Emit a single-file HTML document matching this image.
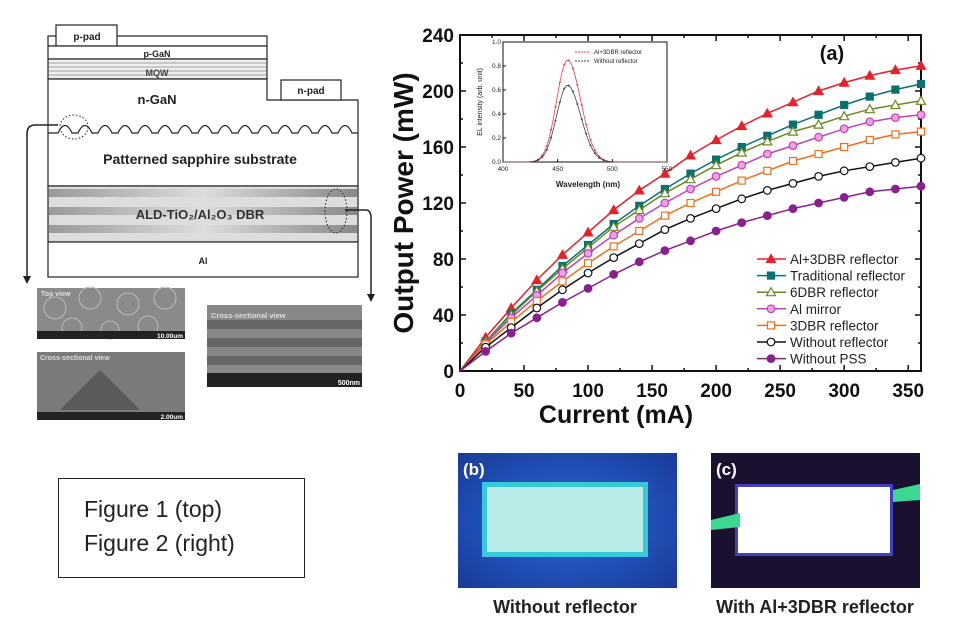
<!DOCTYPE html>
<html><head><meta charset="utf-8"><style>
body{margin:0;width:960px;height:640px;background:#fff;overflow:hidden;font-family:"Liberation Sans",sans-serif}
svg{position:absolute;left:0;top:0}
</style></head><body>
<svg id="s" width="960" height="640" viewBox="0 0 960 640" font-family="Liberation Sans, sans-serif">
<defs>
<linearGradient id="dbr" x1="0" y1="0" x2="1" y2="0">
<stop offset="0" stop-color="#999"/><stop offset="0.5" stop-color="#ddd"/><stop offset="1" stop-color="#888"/>
</linearGradient>
<radialGradient id="gb" cx="0.5" cy="0.5" r="0.7"><stop offset="0" stop-color="#2a6ad8"/><stop offset="1" stop-color="#1a3a9a"/></radialGradient>
</defs>
<g stroke="#222" stroke-width="1.2" fill="#fff">
<rect x="48" y="36" width="219" height="10"/>
<rect x="56" y="25" width="61" height="21"/>
<rect x="48" y="46" width="219" height="13"/>
<rect x="48" y="59" width="219" height="20" fill="#eee"/>
<path d="M48 79 H267 V100 H358 V186 H48 Z"/>
<rect x="281" y="80" width="60" height="20"/>
<rect x="48" y="186" width="310" height="56" fill="#ddd"/>
<rect x="48" y="242" width="310" height="35"/>
</g>
<g stroke="#555" stroke-width="0.6"><line x1="48" y1="63" x2="267" y2="63"/><line x1="48" y1="67" x2="267" y2="67"/><line x1="48" y1="71" x2="267" y2="71"/><line x1="48" y1="75" x2="267" y2="75"/></g>
<g fill="url(#dbr)"><rect x="49" y="189" width="308" height="8"/><rect x="49" y="207" width="308" height="8"/><rect x="49" y="225" width="308" height="8"/></g>
<path id="wave" fill="none" stroke="#222" stroke-width="1.2" d=""/>
<g font-weight="bold" fill="#222" text-anchor="middle">
<text x="87" y="40" font-size="10">p-pad</text>
<text x="157" y="57" font-size="9">p-GaN</text>
<text x="157" y="76" font-size="9" fill="#444">MQW</text>
<text x="157" y="104" font-size="13">n-GaN</text>
<text x="311" y="94" font-size="10">n-pad</text>
<text x="200" y="164" font-size="14">Patterned sapphire substrate</text>
<text x="200" y="219" font-size="13" fill="#333">ALD-TiO₂/Al₂O₃ DBR</text>
<text x="203" y="264" font-size="9">Al</text>
</g>
<ellipse cx="74" cy="127" rx="14" ry="12" fill="none" stroke="#222" stroke-dasharray="1.5,2"/>
<ellipse cx="336" cy="211" rx="11" ry="22" fill="none" stroke="#222" stroke-dasharray="1.5,2"/>
<path d="M58 125 H35 Q27 125 27 134 V278" fill="none" stroke="#222" stroke-width="1.5"/>
<path d="M23 276 L27 284 L31 276 Z" fill="#222"/>
<path d="M345 210 H366 Q371 210 371 218 V296" fill="none" stroke="#222" stroke-width="1.5"/>
<path d="M367 294 L371 302 L375 294 Z" fill="#222"/>
<rect x="37" y="288" width="148" height="51" fill="#8a8a8a"/>
<g fill="none" stroke="#bbb" stroke-width="1"><circle cx="55" cy="308" r="11"/><circle cx="90" cy="298" r="11"/><circle cx="128" cy="304" r="11"/><circle cx="165" cy="298" r="11"/><circle cx="72" cy="328" r="10"/><circle cx="148" cy="326" r="10"/><circle cx="110" cy="330" r="9"/></g>
<rect x="37" y="331" width="148" height="8" fill="#222"/>
<text x="41" y="296" font-size="7" fill="#ddd" font-weight="bold">Top view</text>
<text x="183" y="338" font-size="6.5" fill="#fff" text-anchor="end" font-weight="bold">10.00um</text>
<rect x="37" y="352" width="148" height="68" fill="#7a7a7a"/>
<path d="M60 410 L100 370 L140 410 Z" fill="#5a5a5a"/>
<rect x="37" y="412" width="148" height="8" fill="#222"/>
<text x="40" y="360" font-size="7" fill="#ddd" font-weight="bold">Cross-sectional view</text>
<text x="183" y="419" font-size="6.5" fill="#fff" text-anchor="end" font-weight="bold">2.00um</text>
<rect x="207" y="305" width="155" height="82" fill="#888"/>
<g fill="#666"><rect x="207" y="320" width="155" height="9"/><rect x="207" y="338" width="155" height="9"/><rect x="207" y="356" width="155" height="9"/></g>
<rect x="207" y="373" width="155" height="14" fill="#222"/>
<text x="211" y="318" font-size="7.5" fill="#ddd" font-weight="bold">Cross-sectional view</text>
<text x="360" y="385" font-size="7" fill="#fff" text-anchor="end" font-weight="bold">500nm</text>
<rect x="58.5" y="478.5" width="246" height="99" fill="#fff" stroke="#222"/>
<text x="84" y="517" font-size="23" fill="#222">Figure 1 (top)</text>
<text x="84" y="551" font-size="23" fill="#222">Figure 2 (right)</text>
<rect x="458" y="453" width="219" height="135" fill="url(#gb)"/>
<rect x="482" y="482" width="166" height="75" fill="#3ac8d8"/>
<rect x="487" y="487" width="156" height="65" fill="#b8ece8"/>
<text x="463" y="475" font-size="17" fill="#fff" font-weight="bold">(b)</text>
<rect x="711" y="453" width="209" height="135" fill="#1a1030"/>
<rect x="735" y="484" width="158" height="72" fill="#4040c0"/>
<rect x="738" y="487" width="152" height="66" fill="#fff"/>
<path d="M711 520 L740 513 L740 527 L711 530Z M893 490 L920 484 L920 500 L893 502Z" fill="#3ad890"/>
<text x="716" y="475" font-size="17" fill="#fff" font-weight="bold">(c)</text>
<text x="565" y="613" font-size="18" fill="#222" text-anchor="middle" font-weight="bold">Without reflector</text>
<text x="815" y="613" font-size="18" fill="#222" text-anchor="middle" font-weight="bold">With Al+3DBR reflector</text>
<g id="chart"></g>
</svg>
<script>
var NS="http://www.w3.org/2000/svg",S=document.getElementById('s'),C=document.getElementById('chart');
function el(t,a,p){var e=document.createElementNS(NS,t);for(var k in a)e.setAttribute(k,a[k]);(p||C).appendChild(e);return e}
function tx(x,y,s,a){var e=el('text',a);e.setAttribute('x',x);e.setAttribute('y',y);e.textContent=s;return e}
var d="M48 133";for(var i=0;i<15;i++){var x0=58+i*20;d+=" H"+x0+" Q"+(x0+7)+" 118 "+(x0+14)+" 133";}d+=" H358";document.getElementById('wave').setAttribute('d',d);
var X0=460,X1=921,Y0=371,Y1=35;
function px(v){return X0+v*(X1-X0)/360} function py(v){return Y0-v*(Y0-Y1)/240}
el('rect',{x:X0,y:Y1,width:X1-X0,height:Y0-Y1,fill:'none',stroke:'#111','stroke-width':2});
for(var v=0;v<=350;v+=25){var L=v%50==0?6:3;el('line',{x1:px(v),y1:Y0,x2:px(v),y2:Y0-L,stroke:'#111','stroke-width':1.5});el('line',{x1:px(v),y1:Y1,x2:px(v),y2:Y1+L,stroke:'#111','stroke-width':1.5});if(v%50==0)tx(px(v),Y0+26,v,{'font-size':19,'font-weight':'bold','text-anchor':'middle',fill:'#111'});}
for(var v=0;v<=240;v+=20){var L=v%40==0?6:3;el('line',{x1:X0,y1:py(v),x2:X0+L,y2:py(v),stroke:'#111','stroke-width':1.5});el('line',{x1:X1,y1:py(v),x2:X1-L,y2:py(v),stroke:'#111','stroke-width':1.5});if(v%40==0)tx(X0-6,py(v)+7,v,{'font-size':19,'font-weight':'bold','text-anchor':'end',fill:'#111'});}
tx(616,423,'Current (mA)',{'font-size':25,'font-weight':'bold','text-anchor':'middle',fill:'#111'});
tx(0,0,'Output Power (mW)',{'font-size':28,'font-weight':'bold','text-anchor':'middle',fill:'#111',transform:'translate(413,203) rotate(-90)'});
tx(832,60,'(a)',{'font-size':20,'font-weight':'bold','text-anchor':'middle',fill:'#111'});
var series=[
['Al+3DBR reflector','#e8202a','tri',1,[0,24,45,65,83,99,115,129,141,154,165,175,184,192,200,206,211,215,218]],
['Traditional reflector','#0a7070','sq',1,[0,21,41,58,75,90,105,118,130,141,151,160,168,176,183,190,196,201,205]],
['6DBR reflector','#6a8a20','tri',0,[0,21,40,57,73,88,103,115,127,137,147,156,164,171,176,182,187,190,193]],
['Al mirror','#c040c0','circ',2,[0,20,38,54,70,84,97,109,120,130,139,147,155,161,167,173,178,181,183]],
['3DBR reflector','#f07020','sq',0,[0,19,35,50,64,77,89,100,111,120,128,136,143,150,155,160,165,169,171]],
['Without reflector','#111','circ',0,[0,17,31,45,58,70,81,91,101,109,116,123,129,134,139,143,146,149,152]],
['Without PSS','#8a2090','circ',1,[0,14,27,38,49,59,69,78,86,93,100,106,111,116,120,124,128,130,132]]];
function mk(t,c,f,x,y){var fill=f==1?c:(f==2?'#f0a0e0':'#fff');
if(t=='tri')el('path',{d:'M'+x+' '+(y-4.5)+' L'+(x+4.5)+' '+(y+3.5)+' L'+(x-4.5)+' '+(y+3.5)+' Z',fill:fill,stroke:c,'stroke-width':1.2});
else if(t=='sq')el('rect',{x:x-3.5,y:y-3.5,width:7,height:7,fill:fill,stroke:c,'stroke-width':1.2});
else el('circle',{cx:x,cy:y,r:3.8,fill:fill,stroke:c,'stroke-width':1.2});}
series.forEach(function(s,k){var p=s[4].map(function(v,i){return px(i*20)+','+py(v)}).join(' ');
el('polyline',{points:p,fill:'none',stroke:s[1],'stroke-width':1.5});
s[4].forEach(function(v,i){if(i>0)mk(s[2],s[1],s[3],px(i*20),py(v))});
var ly=259+k*16.6;el('line',{x1:757,y1:ly,x2:786,y2:ly,stroke:s[1],'stroke-width':1.5});mk(s[2],s[1],s[3],771,ly);
tx(790,ly+5,s[0],{'font-size':13.5,fill:'#222'});});
var IX0=503,IX1=667,IY0=162,IY1=42;
el('rect',{x:IX0,y:IY1,width:IX1-IX0,height:IY0-IY1,fill:'#fff',stroke:'#111','stroke-width':1});
function ix(w){return IX0+(w-400)*(IX1-IX0)/150} function iy(v){return IY0-v*(IY0-IY1)}
[400,450,500,550].forEach(function(w){tx(ix(w),IY0+9,w,{'font-size':6.5,'text-anchor':'middle',fill:'#222'});el('line',{x1:ix(w),y1:IY0,x2:ix(w),y2:IY0-3,stroke:'#111'})});
[0,.2,.4,.6,.8,1].forEach(function(v){tx(IX0-2,iy(v)+2,v.toFixed(1),{'font-size':6.5,'text-anchor':'end',fill:'#222'});el('line',{x1:IX0,y1:iy(v),x2:IX0+3,y2:iy(v),stroke:'#111'})});
tx(588,187,'Wavelength (nm)',{'font-size':8,'font-weight':'bold','text-anchor':'middle',fill:'#222'});
tx(0,0,'EL intensity (arb. unit)',{'font-size':7,'text-anchor':'middle',fill:'#222',transform:'translate(482,102) rotate(-90)'});
[[0.85,'#e84050'],[0.64,'#444']].forEach(function(s){var p=[];for(var w=400;w<=550;w+=2){var v=s[0]*Math.exp(-Math.pow((w-459)/(w<459?14:17),2));p.push(ix(w)+','+iy(v));if(w%4==0&&v>0.01)el('circle',{cx:ix(w),cy:iy(v),r:1,fill:s[1]});}el('polyline',{points:p.join(' '),fill:'none',stroke:s[1],'stroke-width':0.8});});
el('line',{x1:575,y1:52,x2:590,y2:52,stroke:'#e84050','stroke-dasharray':'2,1'});tx(594,54,'Al+3DBR reflector',{'font-size':6,fill:'#222'});
el('line',{x1:575,y1:61,x2:590,y2:61,stroke:'#444','stroke-dasharray':'2,1'});tx(594,63,'Without reflector',{'font-size':6,fill:'#222'});
</script>
</body></html>
